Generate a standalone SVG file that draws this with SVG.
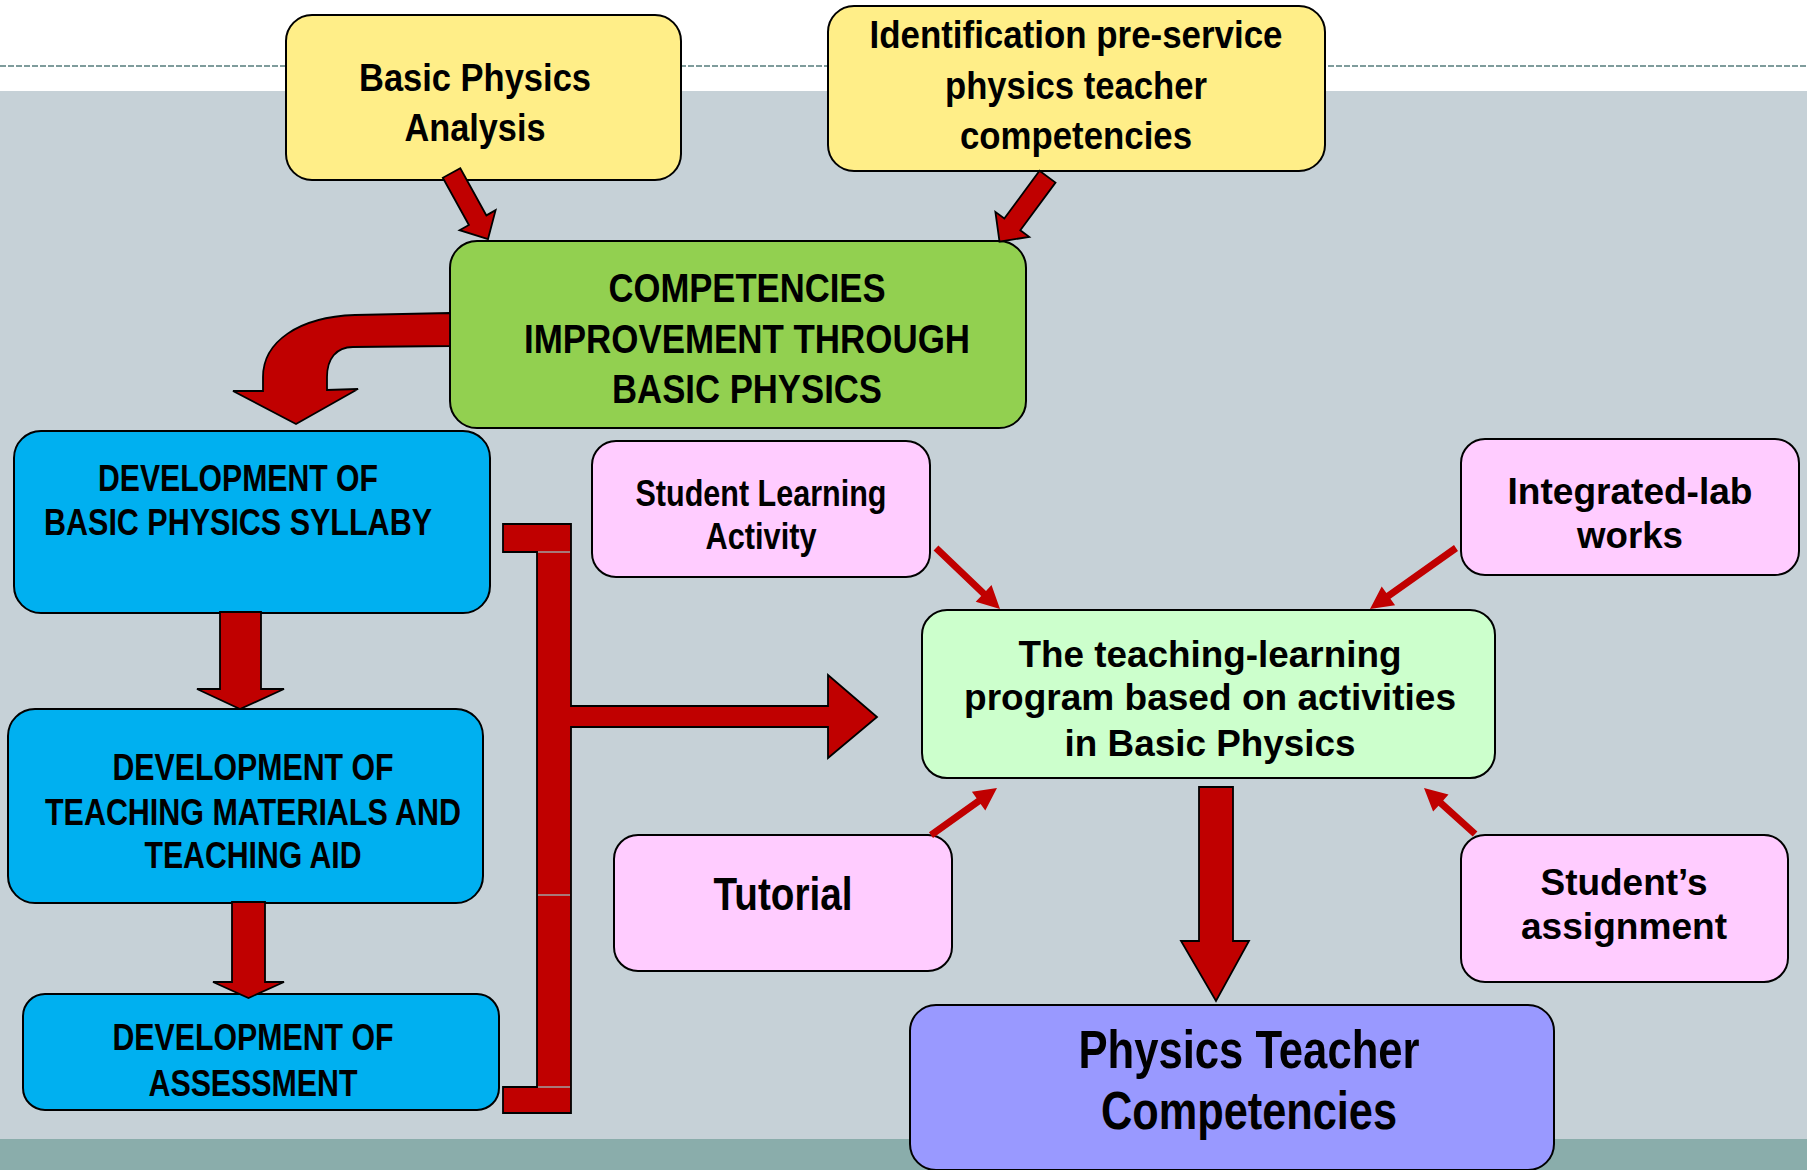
<svg xmlns="http://www.w3.org/2000/svg" width="1807" height="1170" viewBox="0 0 1807 1170">
<style>
.box{stroke:#000;stroke-width:2}
.yel{fill:#FFEE88}
.grn{fill:#92D050}
.blu{fill:#00B0F0}
.pnk{fill:#FFCCFF}
.lgr{fill:#CCFFCC}
.pur{fill:#9999FF}
text{font-family:"Liberation Sans",Arial,sans-serif;font-weight:bold;fill:#000;text-anchor:middle}
.blk{fill:#C00000;stroke:#000;stroke-width:1.8;stroke-linejoin:miter}
.thin{fill:#C00000;stroke:none}
.sep{stroke:#A0A0A0;stroke-width:1.5}
</style>
<rect x="0" y="0" width="1807" height="1170" fill="#FFFFFF"/>
<rect x="0" y="91" width="1807" height="1079" fill="#C6D1D7"/>
<rect x="0" y="1139" width="1807" height="31" fill="#8AADAB"/>
<line x1="0" y1="66" x2="1807" y2="66" stroke="#7F9C9C" stroke-width="2.2" stroke-dasharray="6 2"/>

<g id="basic-physics-analysis">
<rect class="box yel" x="286" y="15" width="395" height="165" rx="26"/>
<text x="475" y="91" font-size="39" textLength="232" lengthAdjust="spacingAndGlyphs">Basic Physics</text>
<text x="475" y="141" font-size="39" textLength="141" lengthAdjust="spacingAndGlyphs">Analysis</text>
</g>
<g id="identification">
<rect class="box yel" x="828" y="6" width="497" height="165" rx="26"/>
<text x="1076" y="48" font-size="38" textLength="413" lengthAdjust="spacingAndGlyphs">Identification pre-service</text>
<text x="1076" y="99" font-size="38" textLength="262" lengthAdjust="spacingAndGlyphs">physics teacher</text>
<text x="1076" y="149" font-size="38" textLength="232" lengthAdjust="spacingAndGlyphs">competencies</text>
</g>
<g id="competencies-improvement">
<rect class="box grn" x="450" y="241" width="576" height="187" rx="27"/>
<text x="747" y="302" font-size="41" textLength="277" lengthAdjust="spacingAndGlyphs">COMPETENCIES</text>
<text x="747" y="353" font-size="41" textLength="446" lengthAdjust="spacingAndGlyphs">IMPROVEMENT THROUGH</text>
<text x="747" y="403" font-size="41" textLength="270" lengthAdjust="spacingAndGlyphs">BASIC PHYSICS</text>
</g>
<g id="dev-syllaby">
<rect class="box blu" x="14" y="431" width="476" height="182" rx="27"/>
<text x="238" y="491" font-size="36" textLength="280" lengthAdjust="spacingAndGlyphs">DEVELOPMENT OF</text>
<text x="238" y="535" font-size="36" textLength="388" lengthAdjust="spacingAndGlyphs">BASIC PHYSICS SYLLABY</text>
</g>
<g id="dev-teaching-materials">
<rect class="box blu" x="8" y="709" width="475" height="194" rx="27"/>
<text x="253" y="780" font-size="36" textLength="281" lengthAdjust="spacingAndGlyphs">DEVELOPMENT OF</text>
<text x="253" y="825" font-size="36" textLength="416" lengthAdjust="spacingAndGlyphs">TEACHING MATERIALS AND</text>
<text x="253" y="868" font-size="36" textLength="217" lengthAdjust="spacingAndGlyphs">TEACHING AID</text>
</g>
<g id="dev-assessment">
<rect class="box blu" x="23" y="994" width="476" height="116" rx="22"/>
<text x="253" y="1050" font-size="36" textLength="281" lengthAdjust="spacingAndGlyphs">DEVELOPMENT OF</text>
<text x="253" y="1096" font-size="36" textLength="209" lengthAdjust="spacingAndGlyphs">ASSESSMENT</text>
</g>
<g id="student-learning-activity">
<rect class="box pnk" x="592" y="441" width="338" height="136" rx="24"/>
<text x="761" y="506" font-size="36" textLength="251" lengthAdjust="spacingAndGlyphs">Student Learning</text>
<text x="761" y="549" font-size="36" textLength="111" lengthAdjust="spacingAndGlyphs">Activity</text>
</g>
<g id="integrated-lab">
<rect class="box pnk" x="1461" y="439" width="338" height="136" rx="24"/>
<text x="1630" y="504" font-size="37" textLength="245" lengthAdjust="spacingAndGlyphs">Integrated-lab</text>
<text x="1630" y="548" font-size="37" textLength="106" lengthAdjust="spacingAndGlyphs">works</text>
</g>
<g id="teaching-learning-program">
<rect class="box lgr" x="922" y="610" width="573" height="168" rx="25"/>
<text x="1210" y="667" font-size="37" textLength="383" lengthAdjust="spacingAndGlyphs">The teaching-learning</text>
<text x="1210" y="710" font-size="37" textLength="492" lengthAdjust="spacingAndGlyphs">program based on activities</text>
<text x="1210" y="756" font-size="37" textLength="291" lengthAdjust="spacingAndGlyphs">in Basic Physics</text>
</g>
<g id="tutorial">
<rect class="box pnk" x="614" y="835" width="338" height="136" rx="24"/>
<text x="783" y="910" font-size="47" textLength="139" lengthAdjust="spacingAndGlyphs">Tutorial</text>
</g>
<g id="students-assignment">
<rect class="box pnk" x="1461" y="835" width="327" height="147" rx="24"/>
<text x="1624" y="895" font-size="37" textLength="167" lengthAdjust="spacingAndGlyphs">Student’s</text>
<text x="1624" y="939" font-size="37" textLength="206" lengthAdjust="spacingAndGlyphs">assignment</text>
</g>
<g id="physics-teacher-competencies">
<rect class="box pur" x="910" y="1005" width="644" height="165" rx="26"/>
<text x="1249" y="1068" font-size="53" textLength="341" lengthAdjust="spacingAndGlyphs">Physics Teacher</text>
<text x="1249" y="1129" font-size="53" textLength="296" lengthAdjust="spacingAndGlyphs">Competencies</text>
</g>

<g id="connectors">
<polygon class="blk" points="442.8,177.8 468.9,225 459.6,230.2 488,239 495.6,210.2 486.4,215.4 460.3,168.2"/>
<polygon class="blk" points="1039.5,170.8 1004.3,218.5 995.4,211.9 999.5,241.7 1029.2,236.9 1020.3,230.3 1055.5,182.6"/>
<path class="blk" d="M450,313 L355,315 C298,317 263,342 263,377 L263,391 L233,391 L296,424 L358,389 L327,390 L327,377 C327,359 336,347 353,347 L450,346 Z"/>
<path class="blk" d="M220,612 L261,612 L261,689 L284,689 L240,709 L197,689 L220,689 Z"/>
<path class="blk" d="M232,902 L265,902 L265,982 L284,982 L248.5,998 L213,982 L232,982 Z"/>
<path class="blk" d="M503,524 L571,524 L571,706 L828,706 L828,675 L877,717 L828,758 L828,727 L571,727 L571,1113 L503,1113 L503,1087 L537,1087 L537,552 L503,552 Z"/>
<line class="sep" x1="538" y1="552" x2="570" y2="552"/>
<line class="sep" x1="538" y1="895" x2="570" y2="895"/>
<line class="sep" x1="538" y1="1087" x2="570" y2="1087"/>
<path class="blk" d="M1199,787 L1233,787 L1233,941 L1249,941 L1216,1001 L1181,941 L1199,941 Z"/>
<polygon class="thin" points="933.6,550.5 981.2,595.9 975.7,601.7 1000,609 991.5,585.1 986,590.9 938.4,545.5"/>
<polygon class="thin" points="1454,545.1 1386.4,593 1381.7,586.5 1370,609 1395.1,605.3 1390.4,598.8 1458,550.9"/>
<polygon class="thin" points="933,837.9 980.6,804 985.3,810.5 997,788 971.9,791.7 976.6,798.3 929,832.2"/>
<polygon class="thin" points="1477.4,831.4 1443.2,800.5 1448.5,794.6 1424,788 1433.1,811.6 1438.5,805.7 1472.7,836.6"/>
</g>
</svg>
